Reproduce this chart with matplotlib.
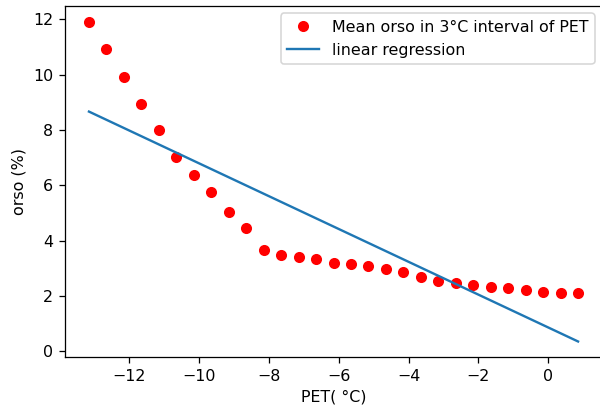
import numpy as np
import matplotlib
matplotlib.use("Agg")
import matplotlib.pyplot as plt

# PET bin centres (3°C intervals, stepped by 0.5) and mean orso per bin
pet = [-13.15, -12.65, -12.15, -11.65, -11.15, -10.65, -10.15, -9.65, -9.15, -8.65,
       -8.15, -7.65, -7.15, -6.65, -6.15, -5.65, -5.15, -4.65, -4.15, -3.65,
       -3.15, -2.65, -2.15, -1.65, -1.15, -0.65, -0.15, 0.35, 0.85]
orso = [11.92, 10.92, 9.93, 8.93, 8.01, 7.01, 6.37, 5.75, 5.02, 4.44,
        3.68, 3.49, 3.41, 3.33, 3.21, 3.14, 3.09, 2.98, 2.86, 2.69,
        2.56, 2.46, 2.40, 2.34, 2.29, 2.22, 2.16, 2.10, 2.10]

x = np.array(pet)
y = np.array(orso)
slope, intercept = np.polyfit(x, y, 1)

DPI = 114
fig = plt.figure(figsize=(600 / DPI, 408 / DPI), dpi=DPI)
ax = fig.add_axes([0.1075, 0.1238, 0.8967, 0.8627])

ax.plot(x, y, 'ro', label="Mean orso in 3°C interval of PET")
ax.plot(x, slope * x + intercept, '-', label="linear regression")

ax.set_xlabel('PET( °C)')
ax.set_ylabel('orso (%)')
ax.legend(loc="upper right")

fig.savefig('out.png', dpi=DPI)
plt.close()
